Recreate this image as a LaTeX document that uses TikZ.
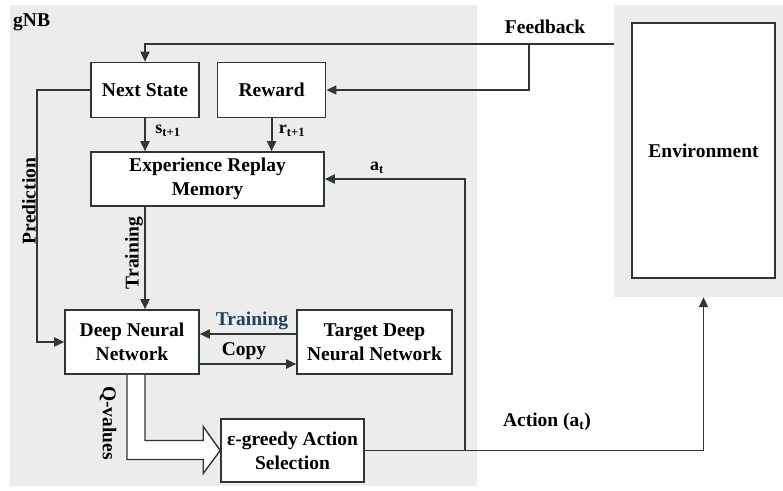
\documentclass[tikz,border=0pt]{standalone}
\usepackage{fontspec}
\setmainfont{Liberation Serif}
\usepackage{xcolor}
\usepackage{tikz}
\usetikzlibrary{arrows.meta,positioning,calc}
\definecolor{lineclr}{RGB}{45,55,52}
\definecolor{panelbg}{RGB}{236,236,236}
\definecolor{trainclr}{RGB}{35,65,85}
\tikzset{
  blockbox/.style={rectangle, draw=lineclr, line width=1.6pt, fill=white,
                   align=center, font=\bfseries\fontsize{19.5}{24}\selectfont,
                   inner sep=1pt},
  panel/.style={rectangle, fill=panelbg, inner sep=0pt},
  arr/.style={-{Triangle[length=10pt,width=9pt]}, line width=1.8pt, color=lineclr},
  lbl/.style={font=\bfseries\fontsize{19.5}{24}\selectfont, inner sep=1pt, text=black},
  sublbl/.style={lbl, font=\bfseries\fontsize{18}{20}\selectfont},
  qarrow/.style={draw=lineclr, line width=1.4pt, fill=white, line join=miter},
}
\begin{document}
\begin{tikzpicture}[x=1pt, y=-1pt]
  \useasboundingbox (0,0) rectangle (783,490);
  % panels
  \node[panel, minimum width=467pt, minimum height=481pt] (gnb) at (243.5,245.5) {};
  \node[panel, minimum width=169pt, minimum height=292pt] (envbg) at (698.5,151) {};
  \node[lbl, anchor=west] (gnblbl) at (12,22) {gNB};
  % blocks
  \node[blockbox, minimum width=108pt, minimum height=55pt] (ns) at (145,90) {Next State};
  \node[blockbox, minimum width=108pt, minimum height=55pt, right=17pt of ns] (rw) {Reward};
  \node[blockbox, minimum width=233pt, minimum height=54pt] (erm) at (207.5,179) {Experience Replay\\Memory};
  \node[blockbox, minimum width=134pt, minimum height=64pt] (dnn) at (132,342) {Deep Neural\\Network};
  \node[blockbox, minimum width=155pt, minimum height=64pt] (tdnn) at (374.5,342) {Target Deep\\Neural Network};
  \node[blockbox, minimum width=143pt, minimum height=63pt] (egr) at (292.5,450.5) {ε-greedy Action\\Selection};
  \node[blockbox, minimum width=143pt, minimum height=255pt] (env) at (703.5,150.5) {Environment};
  % junctions
  \coordinate (fbj) at (529,44);
  \coordinate (aj) at (465,0);
  % connectors
  \draw[arr] (envbg.west |- fbj) -| (ns.north);
  \draw[arr] (fbj) |- (rw.east);
  \draw[arr] (ns.south) -- (ns.south |- erm.north);
  \draw[arr] (rw.south) -- (rw.south |- erm.north);
  \draw[arr] (ns.west) -- ++(-53,0) |- (dnn.west);
  \draw[arr] (erm.south -| ns) -- (dnn.north -| ns);
  \draw[arr] ($(tdnn.west)+(0,-8)$) -- ($(dnn.east)+(0,-8)$);
  \draw[arr] ($(dnn.east)+(0,22)$) -- ($(tdnn.west)+(0,22)$);
  \draw[arr] (egr.east) -| (env |- envbg.south);
  \draw[arr] (aj |- egr.east) |- (erm.east);
  \draw[qarrow] ($(dnn.south)+(-5,0)$) |- ($(egr.west)+(-17,9)$)
     -- ($(egr.west)+(-17,23)$) -- (egr.west) -- ($(egr.west)+(-17,-24)$)
     -- ($(egr.west)+(-17,-10)$) -| ($(dnn.south)+(13,0)$);
  % labels
  \node[lbl] (fblbl) at (545,27) {Feedback};
  \node[sublbl] (slbl) at (168,131) {s\textsubscript{t+1}};
  \node[sublbl] (rlbl) at (292,131) {r\textsubscript{t+1}};
  \node[sublbl] (albl) at (377,168) {a\textsubscript{t}};
  \node[lbl, rotate=90] (predlbl) at (29,201) {Prediction};
  \node[lbl, rotate=90] (trlbl) at (134,253) {Training};
  \node[lbl, text=trainclr] (tr2lbl) at (252,321) {Training};
  \node[lbl] (cplbl) at (244,351) {Copy};
  \node[lbl, rotate=-90] (qlbl) at (108,423) {Q-values};
  \node[lbl] (actlbl) at (547,422) {Action (a\textsubscript{t})};
\end{tikzpicture}
\end{document}
